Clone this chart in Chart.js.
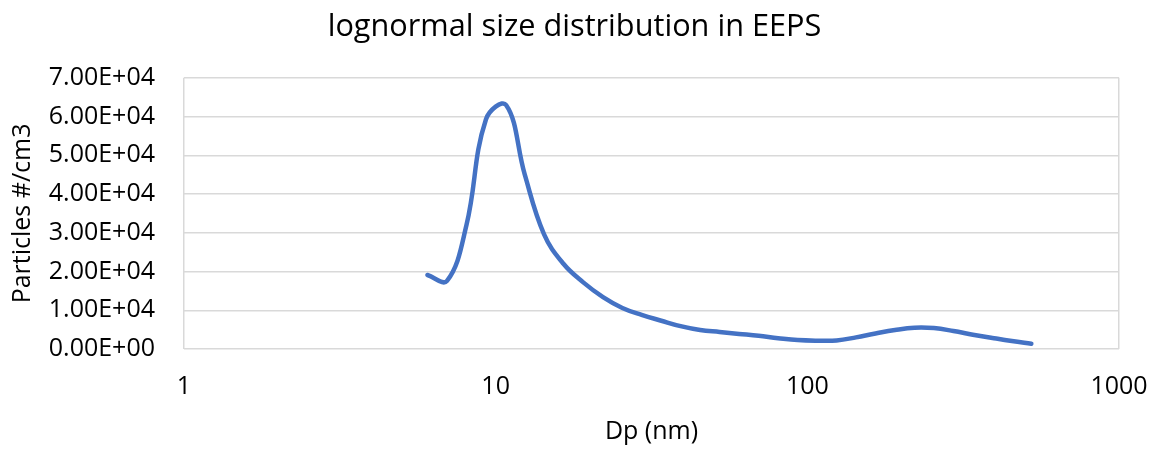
<!DOCTYPE html>
<html>
<head>
<meta charset="utf-8">
<script src="https://cdn.jsdelivr.net/npm/chart.js@4/dist/chart.umd.min.js"></script>
<style>
  html, body { margin: 0; padding: 0; background: #fff; }
  #wrap { width: 1156px; height: 450px; }
</style>
</head>
<body>
<div id="wrap"><canvas id="sizeChart" width="1156" height="450"></canvas></div>
<script>
// EEPS channel midpoints (nm) and concentration
const diameters = [6.04, 6.98, 8.06, 9.31, 10.8, 12.4, 14.3, 16.5, 19.1, 22.1, 25.5, 29.4, 34.0, 39.2, 45.3, 52.3,
                   60.4, 69.8, 80.6, 93.1, 107.5, 124.1, 143.3, 165.5, 191.1, 220.7, 254.8, 294.3, 339.8, 392.4, 453.2, 523.3];
const concentrations = [19100, 17600, 32000, 59300, 63000, 45000, 29600, 22000, 17200, 13400, 10600, 8800, 7300, 5900, 4900, 4400,
                        3900, 3400, 2800, 2300, 2150, 2200, 3000, 4000, 4900, 5500, 5400, 4650, 3700, 2850, 2050, 1370];
const xTicks = [1, 10, 100, 1000];
const yMax = 70000;
const yStep = 10000;

const FONT = "'Open Sans', sans-serif";
const GRID = '#d9d9d9';

const sci = v => {
    const parts = Number(v).toExponential(2).toUpperCase().split('E');
    let exp = parts[1];
    const sign = exp[0] === '-' ? '-' : '+';
    exp = exp.replace(/[+-]/, '');
    if (exp.length < 2) exp = '0' + exp;
    return parts[0] + 'E' + sign + exp;
};

const points = diameters.map((d, i) => ({ x: d, y: concentrations[i] }));

const ctx = document.getElementById('sizeChart').getContext('2d');
const chart = new Chart(ctx, {
    type: 'line',
    data: {
        datasets: [{
            label: 'EEPS',
            data: points,
            borderColor: '#4472C4',
            borderWidth: 4.5,
            pointRadius: 0,
            fill: false,
            tension: 0.4,
            borderCapStyle: 'round',
            borderJoinStyle: 'round'
        }]
    },
    options: {
        responsive: false,
        animation: false,
        // left/right padding also centres the title over the whole picture
        layout: { padding: { left: 30, right: 37, top: 0, bottom: 0 } },
        plugins: {
            legend: { display: false },
            tooltip: { enabled: false },
            title: {
                display: true,
                text: 'lognormal size distribution in EEPS',
                color: '#000',
                font: { family: FONT, size: 30.7, weight: 'normal' },
                padding: { top: 9, bottom: 32 }
            }
        },
        scales: {
            x: {
                type: 'logarithmic',
                min: 1,
                max: 1000,
                afterBuildTicks: s => { s.ticks = xTicks.map(v => ({ value: v })); },
                afterFit: s => { s.height = 101; s.paddingLeft = 0; s.paddingRight = 0; },
                border: { display: false },
                grid: {
                    drawTicks: false,
                    lineWidth: 1.5,
                    color: c => (c.tick && (c.tick.value === 1 || c.tick.value === 1000)) ? GRID : 'rgba(0,0,0,0)'
                },
                ticks: {
                    color: '#000',
                    padding: 23,
                    maxRotation: 0,
                    autoSkip: false,
                    font: { family: FONT, size: 25 },
                    callback: v => String(v)
                },
                title: {
                    display: true,
                    text: 'Dp (nm)',
                    color: '#000',
                    font: { family: FONT, size: 25 },
                    padding: { top: 0, bottom: 3 }
                }
            },
            y: {
                min: 0,
                max: yMax,
                afterFit: s => { s.width = 154; s.paddingTop = 0; s.paddingBottom = 0; },
                border: { display: false },
                grid: { drawTicks: false, color: GRID, lineWidth: 1.5 },
                ticks: {
                    stepSize: yStep,
                    color: '#000',
                    padding: 29,
                    font: { family: FONT, size: 25 },
                    callback: v => sci(v)
                },
                title: {
                    display: true,
                    text: 'Particles #/cm3',
                    color: '#000',
                    font: { family: FONT, size: 25 },
                    padding: { top: -22, bottom: 0 }
                }
            }
        }
    }
});
</script>
</body>
</html>
